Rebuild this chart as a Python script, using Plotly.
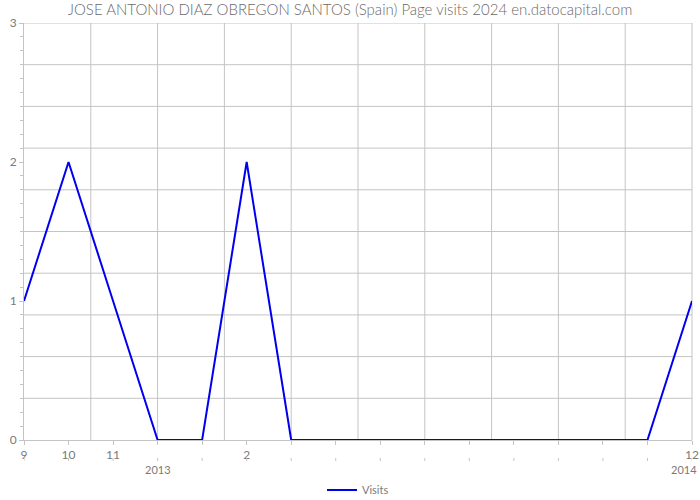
import plotly.graph_objects as go

# Data
month_labels = ["9", "10", "11", "", "", "2", "", "", "", "", "", "", "", "", "", "12"]
year_labels = ["", "", "", "2013", "", "", "", "", "", "", "", "", "", "", "", "2014"]
visits = [1, 2, 1, 0, 0, 2, 0, 0, 0, 0, 0, 0, 0, 0, 0, 1]

idx = list(range(len(visits)))
n = len(visits) - 1

GRID = "#c4c4c4"
TXT = "#7a7a7a"
FONT = "Lato, 'Open Sans', sans-serif"

H = 500
t, b = 23, 60
plot_h = H - t - b

fig = go.Figure()
fig.add_trace(go.Scatter(
    x=idx, y=visits, mode="lines", name="Visits",
    line=dict(color="#0000f0", width=2),
))

shapes = []
# vertical grid: 10 equal divisions
for i in range(1, 11):
    shapes.append(dict(type="line", xref="x domain", yref="y domain", x0=i / 10, x1=i / 10,
                       y0=0, y1=1, line=dict(color=GRID, width=1), layer="below"))
# horizontal grid every 0.3
for k in range(1, 11):
    yv = 0.3 * k
    shapes.append(dict(type="line", xref="x domain", yref="y", x0=0, x1=1,
                       y0=yv, y1=yv, line=dict(color=GRID, width=1), layer="below"))
# second-row tick marks
for i in idx:
    shapes.append(dict(type="line", xref="x", yref="y domain", x0=i, x1=i,
                       y0=-18 / plot_h, y1=-21 / plot_h, line=dict(color=GRID, width=1)))

annotations = []
for i, lab in zip(idx, year_labels):
    if lab:
        last = (i == n)
        annotations.append(dict(x=i, xref="x", y=-29 / plot_h, yref="y domain", text=lab,
                                showarrow=False, xanchor="right" if last else "center",
                                xshift=7 if last else 0, yanchor="middle",
                                font=dict(size=11, color=TXT)))

fig.update_layout(
    width=700, height=H,
    margin=dict(l=24, r=8, t=t, b=b, autoexpand=False),
    paper_bgcolor="white", plot_bgcolor="white",
    font=dict(family=FONT, color=TXT, size=11),
    title=dict(
        text="JOSE ANTONIO DIAZ OBREGON SANTOS (Spain) Page visits 2024 en.datocapital.com",
        x=0.5, xanchor="center", y=1 - 10 / H, yanchor="middle",
        font=dict(family=FONT, size=15, color="#6a6a6a", weight=300),
    ),
    showlegend=True,
    legend=dict(orientation="h", x=0.5, xanchor="center", y=-50 / plot_h, yanchor="middle",
                font=dict(size=11, color=TXT)),
    xaxis=dict(
        range=[0, n], tickmode="array", tickvals=idx, ticktext=month_labels,
        showgrid=False, zeroline=False, showline=True, linecolor=GRID, linewidth=1,
        ticks="outside", ticklen=4, tickcolor=GRID, automargin=False,
        tickfont=dict(size=12, color=TXT),
    ),
    yaxis=dict(
        range=[0, 3], tickmode="array", tickvals=[0, 1, 2, 3],
        showgrid=False, zeroline=False, showline=True, linecolor=GRID, linewidth=1,
        ticks="outside", ticklen=4, tickcolor=GRID, automargin=False,
        tickfont=dict(size=12, color=TXT),
        minor=dict(dtick=0.1, tick0=0, ticks="outside", ticklen=3, tickcolor=GRID, showgrid=False),
    ),
    shapes=shapes,
    annotations=annotations,
)

fig.write_html("out.html")
